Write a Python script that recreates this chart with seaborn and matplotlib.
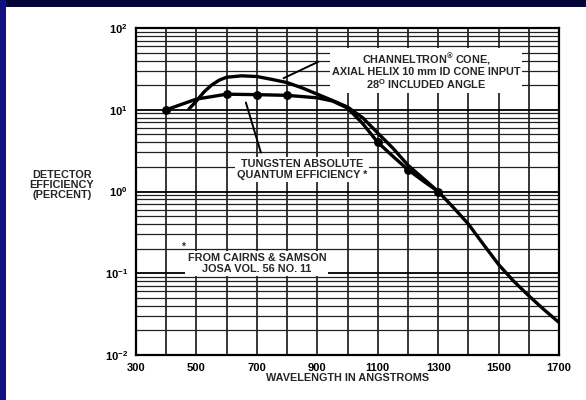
import matplotlib
matplotlib.use("Agg")
import matplotlib.pyplot as plt
import matplotlib.ticker as mticker
import matplotlib.transforms as mtransforms
from matplotlib.patches import Rectangle
import seaborn as sns
import pandas as pd

# ---- data ----
tung_wl = [400, 500, 600, 700, 800, 900, 950, 1000, 1050, 1100, 1150, 1200, 1250, 1300]
tung_eff = [10.0, 13.5, 15.5, 15.3, 15.0, 14.0, 12.8, 10.5, 6.8, 4.0, 2.7, 1.85, 1.35, 1.0]
dot_wl = [400, 600, 700, 800, 1100, 1200, 1300]
dot_eff = [10.0, 15.5, 15.3, 15.0, 4.0, 1.85, 1.0]

chan_wl = [475, 500, 525, 550, 575, 600, 650, 700, 750, 800, 850, 900, 950, 1000,
           1050, 1100, 1150, 1200, 1250, 1300, 1350, 1400, 1450, 1500, 1550, 1600, 1650, 1700]
chan_eff = [10.2, 12.8, 16.5, 20.0, 23.0, 25.0, 26.0, 25.5, 23.5, 21.5, 18.5, 15.5, 13.0, 10.8,
            8.0, 5.2, 3.4, 2.1, 1.45, 1.0, 0.64, 0.40, 0.225, 0.128, 0.08, 0.053, 0.036, 0.025]

x_ticks = [300, 500, 700, 900, 1100, 1300, 1500, 1700]
y_ticks = [1e-2, 1e-1, 1e0, 1e1, 1e2]
y_labels = [r"$10^{-2}$", r"$10^{-1}$", r"$10^{0}$", r"$10^{1}$", r"$10^{2}$"]

chan_text = "CHANNELTRON$^{®}$ CONE,\nAXIAL HELIX 10 mm ID CONE INPUT\n28$^{O}$ INCLUDED ANGLE"
tung_text = "TUNGSTEN ABSOLUTE\nQUANTUM EFFICIENCY *"
ref_text = "FROM CAIRNS & SAMSON\nJOSA VOL. 56 NO. 11"
ylabel_text = "DETECTOR\nEFFICIENCY\n(PERCENT)"
xlabel_text = "WAVELENGTH IN ANGSTROMS"

# ---- style ----
sns.set_style("white")
plt.rcParams["font.family"] = ["Liberation Sans", "DejaVu Sans"]
plt.rcParams["font.weight"] = "bold"
plt.rcParams["mathtext.fontset"] = "custom"
plt.rcParams["mathtext.rm"] = "Liberation Sans:bold"
plt.rcParams["mathtext.bf"] = "Liberation Sans:bold"
plt.rcParams["mathtext.it"] = "Liberation Sans:bold"
plt.rcParams["mathtext.default"] = "bf"

W, H = 586, 400
fig = plt.figure(figsize=(W / 100, H / 100), dpi=100)
fig.patch.set_facecolor("#05053a")
fig.add_artist(Rectangle((0, 0), 6 / W, 1, transform=fig.transFigure,
                         facecolor="#10107e", edgecolor="none", zorder=-11))
fig.add_artist(Rectangle((6 / W, 0), 1, (H - 7) / H, transform=fig.transFigure,
                         facecolor="white", edgecolor="none", zorder=-10))

left, right, top, bottom = 136, 559, 28, 355
ax = fig.add_axes([left / W, 1 - bottom / H, (right - left) / W, (bottom - top) / H])
ax.set_facecolor("white")

df_t = pd.DataFrame({"wl": tung_wl, "eff": tung_eff})
df_c = pd.DataFrame({"wl": chan_wl, "eff": chan_eff})
df_d = pd.DataFrame({"wl": dot_wl, "eff": dot_eff})

sns.lineplot(data=df_c, x="wl", y="eff", ax=ax, color="black", lw=2.4, zorder=4)
sns.lineplot(data=df_t, x="wl", y="eff", ax=ax, color="black", lw=2.4, zorder=4)
sns.scatterplot(data=df_d, x="wl", y="eff", ax=ax, color="black", s=34,
                edgecolor="black", zorder=5)

ax.set_yscale("log")
ax.set_xlim(300, 1700)
ax.set_ylim(1e-2, 1e2)

ax.set_xticks(x_ticks)
ax.set_xticks([400, 600, 800, 1000, 1200, 1400, 1600], minor=True)
ax.set_yticks(y_ticks)
ax.yaxis.set_major_formatter(mticker.FixedFormatter(y_labels))
ax.yaxis.set_minor_locator(mticker.LogLocator(base=10, subs=range(2, 10)))
ax.yaxis.set_minor_formatter(mticker.NullFormatter())

ax.set_axisbelow(True)
ax.grid(which="both", axis="x", color="black", lw=1.1)
ax.grid(which="major", axis="y", color="black", lw=1.3)
ax.grid(which="minor", axis="y", color="#222222", lw=0.9)

ax.tick_params(axis="x", which="major", direction="out", length=3, width=1.2,
               pad=2.5, labelsize=8, colors="black")
ax.tick_params(axis="y", which="major", direction="out", length=5, width=1.2,
               pad=1.0, labelsize=8, colors="black")
ax.tick_params(which="minor", length=0)
for lab in ax.get_xticklabels():
    lab.set_fontweight("bold")

for sp in ax.spines.values():
    sp.set_color("black")
    sp.set_linewidth(1.6)

ax.set_xlabel(xlabel_text, fontsize=7.8, fontweight="bold", labelpad=0.5)
ax.set_ylabel("")

trans = mtransforms.blended_transform_factory(ax.transAxes, ax.transData)
ax.text(-0.175, 1.2, ylabel_text, transform=trans, ha="center", va="center",
        fontsize=7.8, fontweight="bold", linespacing=1.05)

box = dict(facecolor="white", edgecolor="none", pad=1.5)
ax.text(1260, 29.5, chan_text, ha="center", va="center", fontsize=7.8,
        fontweight="bold", linespacing=1.0, bbox=box, zorder=3)
ax.text(850, 1.86, tung_text, ha="center", va="center", fontsize=7.8,
        fontweight="bold", linespacing=1.05, bbox=box, zorder=3)
ax.text(700, 0.132, ref_text, ha="center", va="center", fontsize=7.8,
        fontweight="bold", linespacing=1.05, bbox=box, zorder=3)
ax.text(458, 0.21, "*", ha="center", va="center", fontsize=7, fontweight="bold", zorder=3)

ax.annotate("", xy=(780, 23.5), xytext=(912, 40),
            arrowprops=dict(arrowstyle="-", color="black", lw=1.4), zorder=4)
ax.annotate("", xy=(661, 13.2), xytext=(716, 2.78),
            arrowprops=dict(arrowstyle="-", color="black", lw=1.4), zorder=4)

fig.savefig("out.png", dpi=100, facecolor=fig.get_facecolor())
